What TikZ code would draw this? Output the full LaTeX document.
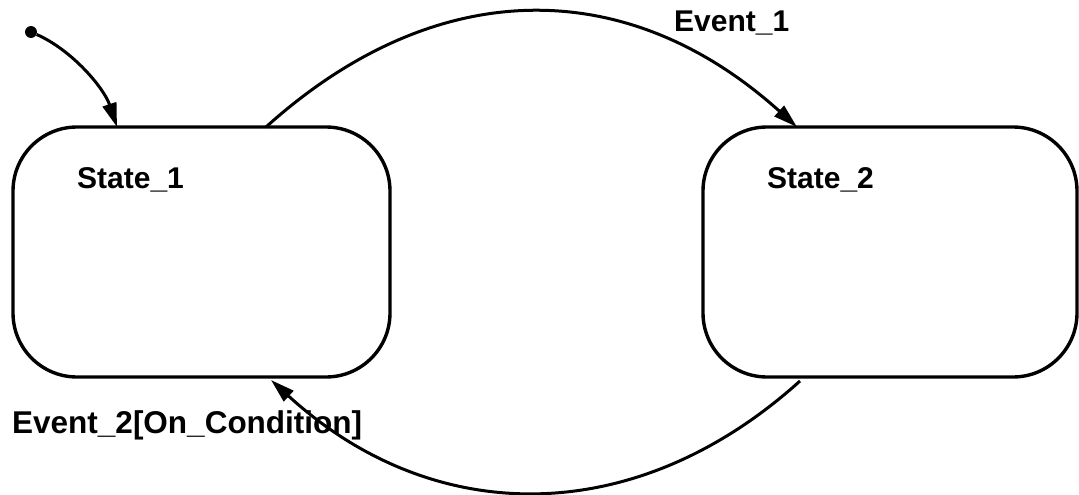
\documentclass[tikz,border=0pt]{standalone}
\usepackage{fontspec}
\setmainfont{Liberation Sans}
\usetikzlibrary{arrows.meta}
\begin{document}
\begin{tikzpicture}[x=1pt,y=-1pt,
  statebox/.style={draw, line width=3.4pt, rounded corners=64pt, inner sep=0pt, minimum height=250pt},
  lbl/.style={anchor=base west, inner sep=0pt, font=\fontsize{30}{36}\selectfont\bfseries},
  conn/.style={line width=3pt, -{Triangle[length=24pt,width=14pt]}}]
\useasboundingbox (0,0) rectangle (1079,495);
\node[statebox, minimum width=377pt] (s1) at (201.5,252) {};
\node[statebox, minimum width=374pt] (s2) at (890,252) {};
\node[lbl] (l1) at (77,188) {State\_1};
\node[lbl] (l2) at (767,188) {State\_2};
\node[lbl] (ev1) at (674,32) {Event\_1};
\node[lbl, font=\fontsize{31.5}{36}\selectfont\bfseries] (ev2) at (12,433) {Event\_2[On\_Condition]};
\node[circle, fill, inner sep=0pt, minimum size=12pt] (init) at (31,32) {};
\coordinate (i1) at (117,127);
\coordinate (a1) at (266,127);
\coordinate (a2) at (797,127);
\coordinate (b1) at (800,381);
\coordinate (b2) at (271,380);
\draw[conn] (init) .. controls (72,50) and (104,88) .. (i1);
\draw[conn] (a1) .. controls (436,-26) and (627,-26) .. (a2);
\draw[conn] (b1) .. controls (636,529) and (434,529) .. (b2);
\end{tikzpicture}
\end{document}
